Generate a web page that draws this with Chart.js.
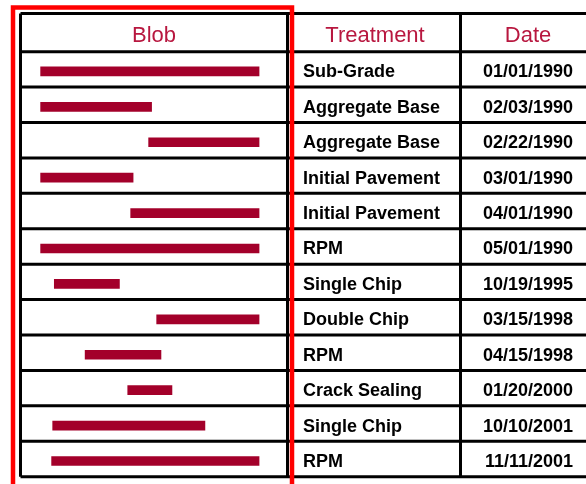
<!DOCTYPE html>
<html>
<head>
<meta charset="utf-8">
<script src="https://cdn.jsdelivr.net/npm/chart.js@4"></script>
<style>
  html, body { margin: 0; padding: 0; background: #fff; }
  #wrap { width: 586px; height: 484px; }
</style>
</head>
<body>
<div id="wrap"><canvas id="blob-chart" width="586" height="484"></canvas></div>
<script>
// Table data
const treatments = ['Sub-Grade', 'Aggregate Base', 'Aggregate Base', 'Initial Pavement', 'Initial Pavement', 'RPM',
    'Single Chip', 'Double Chip', 'RPM', 'Crack Sealing', 'Single Chip', 'RPM'];
const dates = ['01/01/1990', '02/03/1990', '02/22/1990', '03/01/1990', '04/01/1990', '05/01/1990',
    '10/19/1995', '03/15/1998', '04/15/1998', '01/20/2000', '10/10/2001', '11/11/2001'];
// blob start / end on a 0..100 scale
const blobStart = [7.7, 7.7, 48.0, 7.7, 41.3, 7.7, 12.8, 51.0, 24.3, 40.2, 12.2, 11.8];
const blobEnd = [89.2, 49.1, 89.2, 42.2, 89.2, 89.2, 37.1, 89.2, 52.6, 56.7, 69.0, 89.2];
const headers = ['Blob', 'Treatment', 'Date'];

const HEADER_TOP = 13.5;
const COL_TREAT = 287.5;
const COL_DATE = 460.5;
const ROW_SHIFT = 2; // bars sit a little below the middle of each row

// Grid, header and text columns drawn around the chart area
const tablePlugin = {
    id: 'table',
    afterDraw(chart) {
        const ctx = chart.ctx;
        const area = chart.chartArea;
        const rowH = (area.bottom - area.top) / dates.length;
        const top = area.top - ROW_SHIFT;
        const W = chart.width;

        ctx.save();
        // black grid
        ctx.strokeStyle = '#000';
        ctx.lineWidth = 3;
        ctx.beginPath();
        ctx.moveTo(20.5, HEADER_TOP);
        ctx.lineTo(W, HEADER_TOP);
        for (let i = 0; i <= dates.length; i++) {
            const y = top + i * rowH;
            ctx.moveTo(20.5, y);
            ctx.lineTo(W, y);
        }
        [20.5, COL_TREAT, COL_DATE].forEach(x => {
            ctx.moveTo(x, HEADER_TOP);
            ctx.lineTo(x, top + dates.length * rowH);
        });
        ctx.stroke();

        // headers
        ctx.fillStyle = '#b8173f';
        ctx.font = '22px "Liberation Sans", Arial, sans-serif';
        ctx.textAlign = 'center';
        ctx.textBaseline = 'alphabetic';
        ctx.fillText(headers[0], 154, 42);
        ctx.fillText(headers[1], 375, 42);
        ctx.fillText(headers[2], 528, 42);

        // rows
        ctx.fillStyle = '#000';
        ctx.font = 'bold 18px "Liberation Sans", Arial, sans-serif';
        for (let i = 0; i < dates.length; i++) {
            const y = top + (i + 0.5) * rowH + 8;
            ctx.textAlign = 'left';
            ctx.fillText(treatments[i], 303, y);
            ctx.textAlign = 'right';
            ctx.fillText(dates[i], 573, y);
        }

        // red highlight around the blob column
        ctx.strokeStyle = '#ff0000';
        ctx.lineWidth = 4.5;
        ctx.beginPath();
        ctx.moveTo(13, chart.height + 5);
        ctx.lineTo(13, 7.5);
        ctx.lineTo(292, 7.5);
        ctx.lineTo(292, chart.height + 5);
        ctx.stroke();
        ctx.restore();
    }
};

const chart = new Chart(document.getElementById('blob-chart'), {
    type: 'bar',
    data: {
        labels: dates,
        datasets: [{
            label: 'Blob',
            data: blobStart.map((s, i) => [s, blobEnd[i]]),
            backgroundColor: '#a3002a',
            borderWidth: 0,
            borderSkipped: false,
            barThickness: 9
        }]
    },
    options: {
        indexAxis: 'y',
        responsive: false,
        animation: false,
        layout: {
            padding: { left: 20, right: 298, top: 51.7 + ROW_SHIFT, bottom: 7.3 - ROW_SHIFT }
        },
        plugins: {
            legend: { display: false },
            tooltip: { enabled: false }
        },
        scales: {
            x: { display: false, min: 0, max: 100 },
            y: { display: false }
        }
    },
    plugins: [tablePlugin]
});
</script>
</body>
</html>
